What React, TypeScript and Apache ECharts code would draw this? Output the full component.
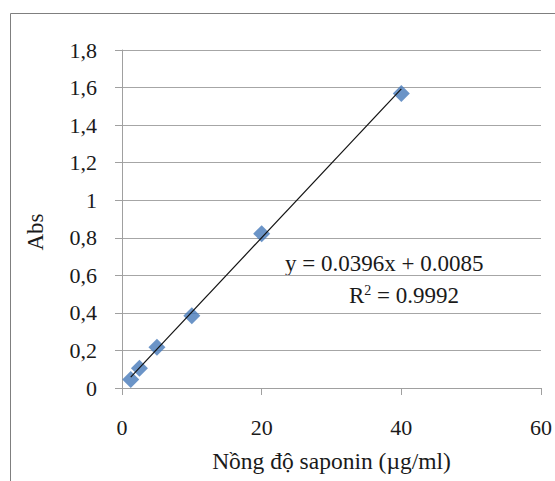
import React, { useEffect, useRef } from "react";
import * as echarts from "echarts";

const concentrations = [1.25, 2.5, 5, 10, 20, 40];
const absorbances = [0.045, 0.105, 0.217, 0.385, 0.822, 1.569];
const slope = 0.0396;
const intercept = 0.0085;
const xTicks = [0, 20, 40, 60];
const yTicks = [0, 0.2, 0.4, 0.6, 0.8, 1, 1.2, 1.4, 1.6, 1.8];
const xTitle = "Nồng độ saponin (µg/ml)";
const yTitle = "Abs";
const equationText = "y = 0.0396x + 0.0085";
const r2Value = "0.9992";

const FONT = "Liberation Serif";

export default function App() {
  const ref = useRef<HTMLDivElement>(null);
  useEffect(() => {
    if (!ref.current) return;
    const chart = echarts.init(ref.current, null, { renderer: "svg" });
    const xMin = concentrations[0];
    const xMax = concentrations[concentrations.length - 1];
    const trend = [
      [xMin, slope * xMin + intercept],
      [xMax, slope * xMax + intercept],
    ];
    chart.setOption({
      animation: false,
      backgroundColor: "#ffffff",
      textStyle: { fontFamily: FONT },
      grid: { left: 122, right: 10, top: 50, bottom: 93, containLabel: false },
      xAxis: {
        type: "value",
        min: xTicks[0],
        max: xTicks[xTicks.length - 1],
        interval: 20,
        axisLine: { show: true, lineStyle: { color: "#a0a0a0", width: 1 } },
        axisTick: { show: true, length: 7, lineStyle: { color: "#a0a0a0" } },
        splitLine: { show: false },
        axisLabel: {
          margin: 28,
          fontFamily: FONT,
          fontSize: 22,
          color: "#1a1a1a",
          formatter: (v: number) => String(v),
        },
        name: xTitle,
        nameLocation: "middle",
        nameGap: 61,
        nameTextStyle: { fontFamily: FONT, fontSize: 23.5, color: "#1a1a1a" },
      },
      yAxis: {
        type: "value",
        min: yTicks[0],
        max: yTicks[yTicks.length - 1],
        interval: 0.2,
        axisLine: { show: true, lineStyle: { color: "#a0a0a0", width: 1 } },
        axisTick: { show: true, length: 7, lineStyle: { color: "#a0a0a0" } },
        splitLine: { show: true, lineStyle: { color: "#a6a6a6", width: 1.2 } },
        axisLabel: {
          margin: 25,
          fontFamily: FONT,
          fontSize: 22,
          color: "#1a1a1a",
          formatter: (v: number) => String(Math.round(v * 10) / 10).replace(".", ","),
        },
      },
      graphic: [
        {
          type: "rect",
          shape: { x: 10.5, y: 13.5, width: 600, height: 520 },
          style: { fill: "none", stroke: "#7f7f7f", lineWidth: 1 },
          silent: true,
        },
        {
          type: "text",
          x: 35,
          y: 232,
          rotation: Math.PI / 2,
          style: {
            text: yTitle,
            fontFamily: FONT,
            fontSize: 23,
            fill: "#1a1a1a",
            align: "center",
            verticalAlign: "middle",
          },
        },
        {
          type: "text",
          x: 285,
          y: 263,
          style: {
            text: equationText,
            fontFamily: FONT,
            fontSize: 23,
            fill: "#1a1a1a",
            align: "left",
            verticalAlign: "middle",
          },
        },
        {
          type: "text",
          x: 404,
          y: 295,
          style: {
            text: "{b|R}{s|2}{b| = " + r2Value + "}",
            align: "center",
            verticalAlign: "middle",
            rich: {
              b: { fontFamily: FONT, fontSize: 23, fill: "#1a1a1a", verticalAlign: "bottom" },
              s: { fontFamily: FONT, fontSize: 14, fill: "#1a1a1a", verticalAlign: "top", padding: [0, 0, 8, 0] },
            },
          },
        },
      ],
      series: [
        {
          type: "scatter",
          data: concentrations.map((c, i) => [c, absorbances[i]]),
          symbol: "diamond",
          symbolSize: 17,
          itemStyle: { color: "#4679b9" },
          z: 2,
        },
        {
          type: "line",
          data: trend,
          showSymbol: false,
          symbol: "none",
          lineStyle: { color: "#111111", width: 1.2 },
          z: 3,
        },
      ],
    });
    return () => chart.dispose();
  }, []);
  return (
    <div
      ref={ref}
      style={{ position: "fixed", left: 0, top: 0, width: 555, height: 481 }}
    />
  );
}
